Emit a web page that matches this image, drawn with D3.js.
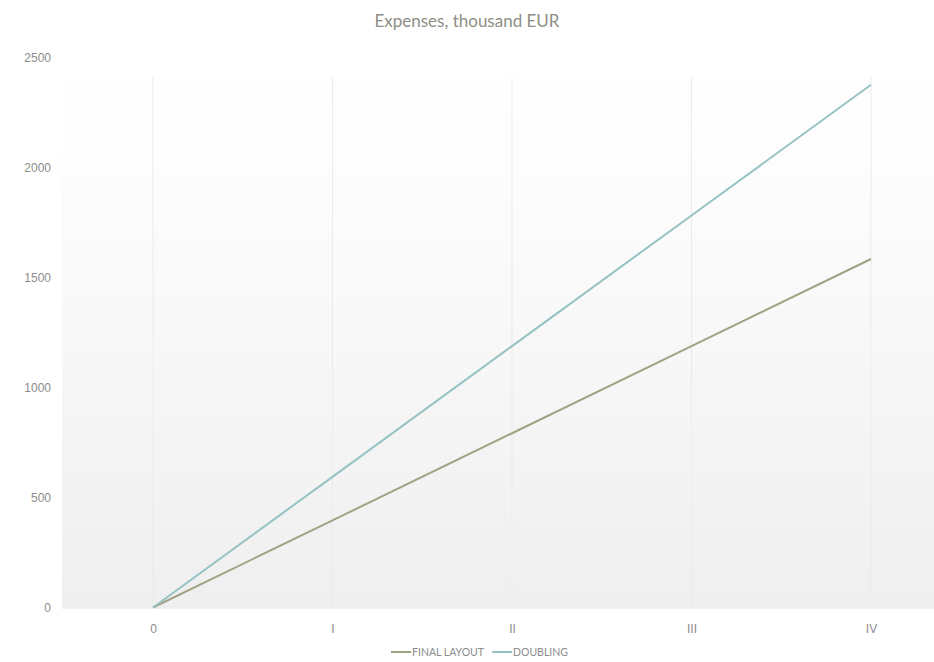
<!DOCTYPE html>
<html>
<head>
<meta charset="utf-8">
<script src="https://cdn.jsdelivr.net/npm/d3@7/dist/d3.min.js"></script>
<style>
  html, body { margin: 0; padding: 0; background: #fff; }
  svg { display: block; font-family: Lato, "DejaVu Sans", sans-serif; }
</style>
</head>
<body>
<svg id="chart" width="934" height="662"></svg>
<script>
const categories = ["0", "I", "II", "III", "IV"];
const finalLayout = [0, 396, 792, 1188, 1584];
const doubling = [0, 594, 1188, 1782, 2376];
const yTicks = [0, 500, 1000, 1500, 2000, 2500];
const seriesNames = ["FINAL LAYOUT", "DOUBLING"];
const seriesColors = ["#a3a184", "#95c2c2"];

const W = 934, H = 662;
const plot = { left: 62, right: 934, top: 57.5, bottom: 607.5 };
const svg = d3.select("#chart");

const defs = svg.append("defs");
const grad = defs.append("linearGradient").attr("id", "bg").attr("x1", 0).attr("y1", 0).attr("x2", 0).attr("y2", 1);
grad.append("stop").attr("offset", "0%").attr("stop-color", "#ffffff");
grad.append("stop").attr("offset", "20%").attr("stop-color", "#fdfdfd");
grad.append("stop").attr("offset", "100%").attr("stop-color", "#efefef");

const x = d3.scalePoint().domain(categories).range([153, 871]);
const y = d3.scaleLinear().domain([0, 2500]).range([plot.bottom, plot.top]);

svg.append("rect")
  .attr("x", plot.left).attr("y", plot.top)
  .attr("width", plot.right - plot.left).attr("height", plot.bottom - plot.top)
  .attr("fill", "url(#bg)");

// vertical gridlines at categories
svg.append("g").selectAll("line").data(categories).join("line")
  .attr("x1", d => x(d)).attr("x2", d => x(d))
  .attr("y1", plot.top + 20).attr("y2", plot.bottom)
  .attr("stroke", "#ebebeb").attr("stroke-width", 1);

// bottom axis line
svg.append("line")
  .attr("x1", plot.left).attr("x2", plot.right)
  .attr("y1", plot.bottom + 0.5).attr("y2", plot.bottom + 0.5)
  .attr("stroke", "#e4e4e4").attr("stroke-width", 1);

// y axis labels
const yAxis = d3.axisLeft(y).tickValues(yTicks).tickSize(0).tickPadding(0).tickFormat(d3.format("d"));
const gy = svg.append("g").attr("transform", "translate(51,0)").attr("color", "#8c8c8c").call(yAxis);
gy.select(".domain").remove();
gy.selectAll("text").attr("fill", "#8c8c8c").style("font-size", "12px");

// x axis labels
const xAxis = d3.axisBottom(x).tickSize(0).tickPadding(0);
const gx = svg.append("g").attr("transform", `translate(0,${plot.bottom + 17})`).attr("color", "#8c8c8c").call(xAxis);
gx.select(".domain").remove();
gx.selectAll("text").attr("fill", "#8c8c8c").style("font-size", "12px");

// lines
const line = d3.line().x((d, i) => x(categories[i])).y(d => y(d));
[finalLayout, doubling].forEach((vals, i) => {
  svg.append("path").datum(vals)
    .attr("d", line)
    .attr("fill", "none")
    .attr("stroke", seriesColors[i])
    .attr("stroke-width", 2);
});

// title
svg.append("text")
  .attr("x", 467).attr("y", 27)
  .attr("text-anchor", "middle")
  .attr("fill", "#8e8e85")
  .style("font-size", "17px")
  .text("Expenses, thousand EUR");

// legend
const legendItems = [{ x: 391 }, { x: 492 }];
seriesNames.forEach((name, i) => {
  const g = svg.append("g").attr("transform", `translate(${legendItems[i].x},652)`);
  g.append("line").attr("x1", 0).attr("x2", 20).attr("y1", 0).attr("y2", 0)
    .attr("stroke", seriesColors[i]).attr("stroke-width", 2);
  g.append("text").attr("x", 21).attr("y", 4)
    .attr("fill", "#8c8c8c").style("font-size", "10.5px")
    .text(name);
});
</script>
</body>
</html>
